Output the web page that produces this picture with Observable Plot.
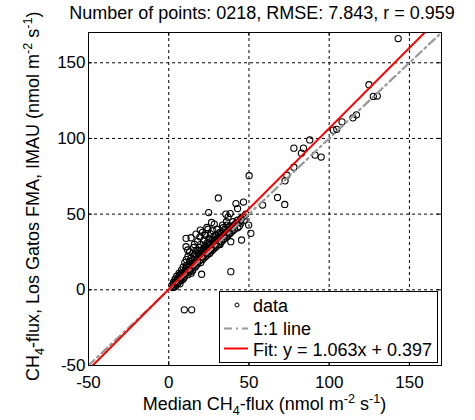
<!DOCTYPE html>
<html><head><meta charset="utf-8">
<script src="https://cdn.jsdelivr.net/npm/d3@7"></script>
<script src="https://cdn.jsdelivr.net/npm/@observablehq/plot@0.6"></script>
<style>html,body{margin:0;padding:0;background:#fff} svg{display:block}</style>
</head><body><div id="chart"></div>
<script>
const title = "Number of points: 0218, RMSE: 7.843, r = 0.959";
const xTicks = [-50, 0, 50, 100, 150];
const yTicks = [-50, 0, 50, 100, 150];
const axisDomain = [-50, 170];
const fitSlope = 1.063;
const fitIntercept = 0.397;
const legendLabels = ["data", "1:1 line", "Fit: y = 1.063x + 0.397"];

// Median CH4-flux (x) and Los Gatos FMA CH4-flux (y), nmol m-2 s-1
const medianFlux = [
  2,2.5,3,3, 4,4,4.5,5,5,5.5,
  6,6,6.5,7,7,7.5,8,8,8,
  9,9,9.5,10,10,10,10.5,11,11,11,
  12,12,12,12.5,13,13,13,13.5,14,14,14,
  15,15,15,15.5,16,16,16,16.5,17,17,17,
  18,18,18,18.5,19,19,19,19.5,20,20,20,20,
  21,21,21,21.5,22,22,22,22.5,23,23,23,
  24,24,24,24.5,25,25,25,25.5,26,26,26,
  27,27,27,27.5,28,28,28,29,29,29,
  30,30,30,31,31,31,32,32,32,33,33,
  34,34,34,35,35,36,36,36,37,37,
  38,38,39,39,40,40,40,41,41,42,
  43,43,44,44,45,45,46,47,48,
  3,4,6,7,8,9,11,12,13,14,15,16,17,18,19,20,21,22,23,24,25,26,27,28,29,30,31,32,33,34,35,36,38,
  143,124.8,127.5,130,117,114.8,108,104.7,102.6,87.9,78,84,82.7,91.2,95,78,73.6,72.5,67.8,72.3,
  58.5,50.1,30.9,41.9,46.6,24.9,42.9,35.6,38.3,37,49.8,51.2,45.4,38.7,26.7,28.4,33.6,36.3,23.8,19.7,
  22.6,17,13.9,10.8,10.8,11.8,9.7,14.3,20.5,38.7
];
const losGatosFlux = [
  3,1.5,5,2, 4,7,3,6,9,4,
  8,5,11,7,10,6,9,13,7,
  10,15,8,12,18,9,14,11,20,13,
  15,10,22,17,13,19,25,12,16,21,14,
  18,24,13,28,17,20,30,15,22,26,18,
  20,32,17,24,21,28,19,35,22,26,30,18,
  24,38,20,27,23,33,21,29,25,36,22,
  27,31,23,40,26,29,34,24,28,37,25,
  30,33,26,39,29,35,27,31,36,28,
  32,29,40,33,30,37,34,31,38,35,32,
  36,33,41,37,34,38,35,45,39,36,
  40,37,41,38,42,39,45,43,40,44,
  41,46,45,42,47,44,48,46,50,
  4,2,6,4,11,7,16,13,16,11,16,23,16,26,23,24,22,26,28,25,31,30,28,32,33,34,35,30,37,38,40,37,42,
  166,135.5,127.8,128,115.6,113.6,111,106,105.5,99,93.6,93.6,90.3,89,87.7,81,75.7,72,61,56.4,
  56,75.4,60.7,57,58,51,53.7,50,50.4,48,42.8,37.3,32.9,31.8,44.5,43.4,42.8,42.8,41.2,39.5,
  36.2,36.8,34.4,34,28.5,26.3,-13.2,-13.2,10.3,12
];

const W = 475, H = 420, mL = 88, mR = 34, mT = 32, mB = 55;
const pw = W - mL - mR, ph = H - mT - mB;
const FONT = "'Liberation Sans', Arial, Helvetica, sans-serif";
const FS = 18;

const points = medianFlux.map((x, i) => ({x, y: losGatosFlux[i]}));
const oneToOne = axisDomain.map(v => ({x: v, y: v}));
const fitLine = axisDomain.map(v => ({x: v, y: fitSlope * v + fitIntercept}));

const plot = Plot.plot({
  width: W, height: H,
  marginLeft: mL, marginRight: mR, marginTop: mT, marginBottom: mB,
  style: {fontFamily: FONT, fontSize: "17px", background: "#fff", color: "#000", overflow: "visible"},
  x: {domain: axisDomain, label: null},
  y: {domain: axisDomain, label: null},
  marks: [
    Plot.ruleX(xTicks, {x: d => d, stroke: "#000", strokeWidth: 1, strokeDasharray: "3,3"}),
    Plot.ruleY(yTicks, {y: d => d, stroke: "#000", strokeWidth: 1, strokeDasharray: "3,3"}),
    Plot.tickX(xTicks, {x: d => d, insetTop: ph - 4, stroke: "#000"}),
    Plot.tickX(xTicks, {x: d => d, insetBottom: ph - 4, stroke: "#000"}),
    Plot.tickY(yTicks, {y: d => d, insetRight: pw - 4, stroke: "#000"}),
    Plot.tickY(yTicks, {y: d => d, insetLeft: pw - 4, stroke: "#000"}),
    Plot.dot(points, {x: "x", y: "y", r: 3.1, stroke: "#000", strokeWidth: 1.1, fill: "none"}),
    Plot.line(oneToOne, {x: "x", y: "y", stroke: "#999", strokeWidth: 2.2, strokeDasharray: "8,4,2,4", clip: true}),
    Plot.line(fitLine, {x: "x", y: "y", stroke: "#f00", strokeWidth: 2, clip: true}),
    Plot.frame({stroke: "#000", strokeWidth: 1}),
    Plot.axisX(xTicks, {tickSize: 0, tickPadding: 10, fontSize: 17, tickFormat: d => String(d), label: null}),
    Plot.axisY(yTicks, {tickSize: 0, tickPadding: 3, fontSize: 17, tickFormat: d => String(d), label: null})
  ]
});
document.getElementById("chart").appendChild(plot);

const svg = d3.select(plot);
function rich(sel, parts, fs) {
  let shift = 0;
  for (const p of parts) {
    const s = typeof p === "string" ? {t: p} : p;
    const target = s.sub ? fs * 0.3 : s.sup ? -fs * 0.4 : 0;
    sel.append("tspan").attr("dy", target - shift)
      .attr("font-size", (s.sub || s.sup) ? fs * 0.7 : fs).text(s.t);
    shift = target;
  }
}
// title
svg.append("text").attr("x", 262).attr("y", 19).attr("text-anchor", "middle")
  .attr("font-family", FONT).attr("font-size", FS).attr("fill", "#000").text(title);
// x label
const xl = svg.append("text").attr("x", mL + pw / 2).attr("y", 410).attr("text-anchor", "middle")
  .attr("font-family", FONT).attr("font-size", FS).attr("fill", "#000");
rich(xl, ["Median CH", {t: "4", sub: true}, "-flux (nmol m", {t: "-2", sup: true}, " s", {t: "-1", sup: true}, ")"], FS);
// y label
const yl = svg.append("text").attr("transform", "translate(39,381) rotate(-90)").attr("text-anchor", "start")
  .attr("font-family", FONT).attr("font-size", FS).attr("fill", "#000");
rich(yl, ["CH", {t: "4", sub: true}, "-flux, Los Gatos FMA, IMAU (nmol m", {t: "-2", sup: true}, " s", {t: "-1", sup: true}, ")"], FS);

// legend
const lg = svg.append("g").attr("font-family", FONT).attr("font-size", FS).attr("text-anchor", "start");
lg.append("rect").attr("x", 219.5).attr("y", 291.5).attr("width", 218).attr("height", 71)
  .attr("fill", "#fff").attr("stroke", "#000").attr("stroke-width", 1);
lg.append("circle").attr("cx", 237).attr("cy", 305).attr("r", 2).attr("fill", "none").attr("stroke", "#000");
lg.append("line").attr("x1", 224).attr("x2", 248).attr("y1", 328.5).attr("y2", 328.5)
  .attr("stroke", "#999").attr("stroke-width", 2.2).attr("stroke-dasharray", "8,4,2,4");
lg.append("line").attr("x1", 224).attr("x2", 248).attr("y1", 348.5).attr("y2", 348.5)
  .attr("stroke", "#f00").attr("stroke-width", 2);
const ly = [312, 334.5, 356];
legendLabels.forEach((t, i) => lg.append("text").attr("x", 253).attr("y", ly[i])
  .attr("text-anchor", "start").attr("fill", "#000").text(t));
</script>
</body></html>
